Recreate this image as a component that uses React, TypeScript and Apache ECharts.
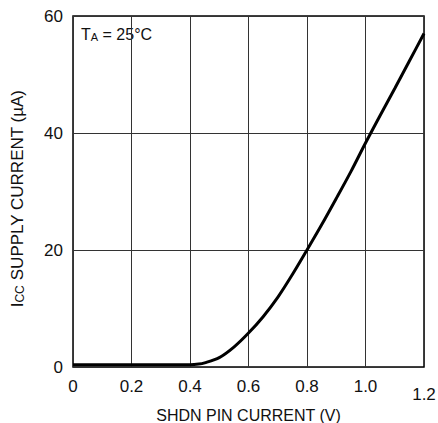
import React, { useEffect, useRef } from "react";
import * as echarts from "echarts";

const xValues = [0, 0.1, 0.2, 0.3, 0.4, 0.43, 0.45, 0.5, 0.55, 0.6, 0.65, 0.7, 0.75, 0.8, 0.85, 0.9, 0.95, 1.0, 1.05, 1.1, 1.15, 1.2];
const iccValues = [0.4, 0.4, 0.4, 0.4, 0.4, 0.5, 0.7, 1.6, 3.4, 5.8, 8.6, 11.9, 15.8, 20.0, 24.3, 28.8, 33.4, 38.3, 43.0, 47.6, 52.3, 57.0];
const xTickLabels = ["0", "0.2", "0.4", "0.6", "0.8", "1.0", "1.2"];
const yTickLabels = ["0", "20", "40", "60"];

const FONT = "'Liberation Sans', Arial, sans-serif";

export default function App() {
  const ref = useRef<HTMLDivElement>(null);
  useEffect(() => {
    if (!ref.current) return;
    const chart = echarts.init(ref.current, undefined, { renderer: "svg" });
    const data = xValues.map((x, i) => [x, iccValues[i]]);
    chart.setOption({
      animation: false,
      backgroundColor: "#fff",
      grid: {
        left: 73,
        top: 16,
        right: 14,
        bottom: 56,
        show: true,
        borderColor: "#000",
        borderWidth: 1.5,
        containLabel: false,
        outerBoundsMode: "none",
      },
      xAxis: {
        type: "value",
        min: 0,
        max: 1.2,
        interval: 0.2,
        axisLine: { show: false },
        axisTick: { show: false },
        splitLine: { show: true, lineStyle: { color: "#333", width: 1 } },
        axisLabel: {
          margin: 11,
          fontFamily: FONT,
          fontSize: 17,
          color: "#111",
          showMinLabel: true,
          showMaxLabel: true,
          formatter: (v: number) => {
            const idx = Math.round(v / 0.2);
            const s = xTickLabels[idx] ?? "";
            return idx === xTickLabels.length - 1 ? `{low|${s}}` : s;
          },
          rich: {
            low: { fontFamily: FONT, fontSize: 17, color: "#111", padding: [8, 0, 0, 0] },
          },
        },
        name: "SHDN PIN CURRENT (V)",
        nameLocation: "middle",
        nameGap: 35,
        nameTextStyle: { fontFamily: FONT, fontSize: 16, color: "#111" },
      },
      yAxis: {
        type: "value",
        min: 0,
        max: 60,
        interval: 20,
        axisLine: { show: false },
        axisTick: { show: false },
        splitLine: { show: true, lineStyle: { color: "#333", width: 1 } },
        axisLabel: {
          margin: 10,
          fontFamily: FONT,
          fontSize: 17,
          color: "#111",
          formatter: (v: number) => yTickLabels[Math.round(v / 20)] ?? "",
        },
        name: "{m|I}{s|CC}{m| SUPPLY CURRENT (µA)}",
        nameLocation: "middle",
        nameGap: 47,
        nameTextStyle: {
          padding: [0, 14, 0, 0],
          rich: {
            m: { fontFamily: FONT, fontSize: 17, color: "#111", lineHeight: 17 },
            s: { fontFamily: FONT, fontSize: 12, color: "#111", lineHeight: 2, verticalAlign: "bottom" },
          },
        },
      },
      graphic: [
        {
          type: "text",
          left: 81,
          top: 26,
          style: {
            text: "{m|T}{s|A}{m| = 25°C}",
            rich: {
              m: { fontFamily: FONT, fontSize: 16, fill: "#111", lineHeight: 16 },
              s: { fontFamily: FONT, fontSize: 11, fill: "#111", lineHeight: 2, verticalAlign: "bottom" },
            },
          },
        },
      ],
      series: [
        {
          type: "line",
          data,
          smooth: 0.3,
          showSymbol: false,
          lineStyle: { color: "#000", width: 3 },
        },
      ],
    });
    return () => chart.dispose();
  }, []);
  return (
    <div
      ref={ref}
      style={{ position: "absolute", left: 0, top: 0, width: 438, height: 423 }}
    />
  );
}
